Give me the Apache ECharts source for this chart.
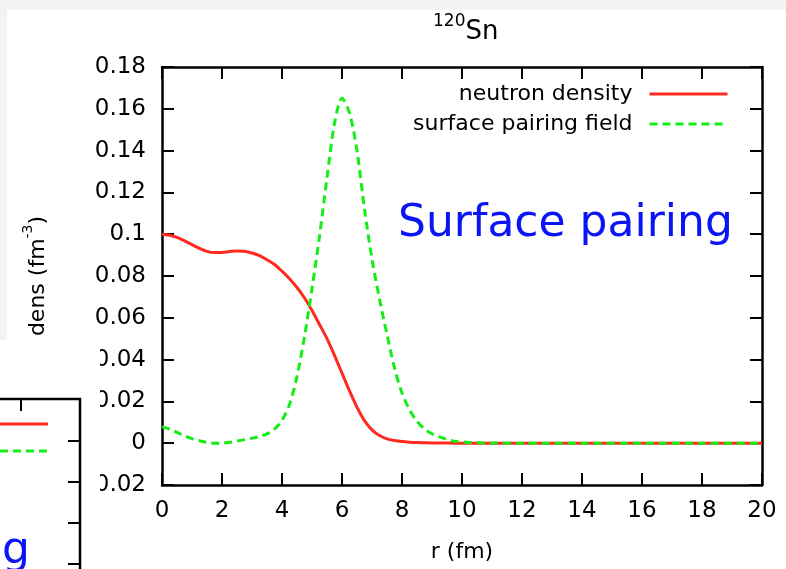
<!DOCTYPE html>
<html>
<head>
<meta charset="utf-8">
<script src="https://cdn.jsdelivr.net/npm/echarts@6/dist/echarts.min.js"></script>
<style>
html,body{margin:0;padding:0;background:#ffffff;}
#chart{width:786px;height:569px;}
</style>
</head>
<body>
<div id="chart"></div>
<script>
// radius r (fm)
const rValues = [0,0.25,0.5,0.75,1,1.25,1.5,1.75,2,2.25,2.5,2.75,3,3.25,3.5,3.75,4,4.25,4.5,4.75,5,5.25,5.5,5.75,6,6.25,6.5,6.75,7,7.25,7.5,7.75,8,8.25,8.5,8.75,9,9.25,9.5,9.75,10,10.5,11,12,14,16,18,20];
// neutron density (fm^-3)
const neutronDensity = [0.1000,0.0995,0.0985,0.0968,0.0950,0.0932,0.0918,0.0912,0.0913,0.0917,0.0920,0.0918,0.0910,0.0897,0.0878,0.0855,0.0823,0.0787,0.0745,0.0695,0.0635,0.0568,0.0500,0.0420,0.0335,0.0250,0.0172,0.0108,0.0064,0.0037,0.0021,0.0013,0.0008,0.0005,0.0003,0.0002,0.0001,0.0001,0.00005,0.00003,0.00002,0.00001,0,0,0,0,0,0];
// surface pairing field
const pairingField = [0.0078,0.0068,0.0052,0.0035,0.0022,0.0012,0.0004,0.0000,0.0000,0.0004,0.0010,0.0017,0.0024,0.0032,0.0045,0.0068,0.0110,0.0185,0.0320,0.0510,0.0740,0.0990,0.1270,0.1530,0.1650,0.1580,0.1400,0.1120,0.0880,0.0690,0.0520,0.0360,0.0240,0.0160,0.0105,0.0068,0.0045,0.0030,0.0018,0.0010,0.0006,0.0002,0.0001,0,0,0,0,0];
const seriesNames = ['neutron density', 'surface pairing field'];
const xTicks = {min: 0, max: 20, interval: 2};
const yTicks = {min: -0.02, max: 0.18, interval: 0.02};

const FONT = 'DejaVu Sans';
const pairs = (ys) => rValues.map((x, i) => [x, ys[i]]);
const fmtY = (v) => {
  if (Math.abs(v) < 1e-9) return '0';
  return String(parseFloat(v.toFixed(2)));
};

const chart = echarts.init(document.getElementById('chart'), null, {renderer: 'canvas'});
const axisCommon = {
  axisLine: {show: true, onZero: false, lineStyle: {color: '#000', width: 2.5}},
  axisTick: {show: true, inside: true, length: 12, lineStyle: {color: '#000', width: 2}},
  splitLine: {show: false}
};
const option = {
  backgroundColor: '#ffffff',
  animation: false,
  title: {
    text: '{sup|120}{main|Sn}',
    left: 428,
    top: 8,
    textStyle: {
      fontWeight: 'normal',
      rich: {
        sup: {fontFamily: FONT, fontSize: 17, fontWeight: 'normal', color: '#000', verticalAlign: 'top', lineHeight: 32},
        main: {fontFamily: FONT, fontSize: 26, fontWeight: 'normal', color: '#000', verticalAlign: 'bottom', lineHeight: 32}
      }
    }
  },
  grid: {left: 162, right: 24, top: 67, bottom: 84, containLabel: false, show: false},
  legend: {
    data: seriesNames,
    orient: 'vertical',
    right: 52,
    top: 78,
    align: 'right',
    itemWidth: 78,
    itemHeight: 20,
    itemGap: 8,
    itemStyle: {opacity: 0},
    lineStyle: {width: 3},
    textStyle: {fontFamily: FONT, fontSize: 22, color: '#000', padding: [0, 12, 0, 0]}
  },
  xAxis: [
    Object.assign({}, axisCommon, {
      type: 'value', position: 'bottom',
      min: xTicks.min, max: xTicks.max, interval: xTicks.interval,
      name: 'r (fm)', nameLocation: 'middle', nameGap: 56,
      nameTextStyle: {fontFamily: FONT, fontSize: 22, color: '#000'},
      axisLabel: {fontFamily: FONT, fontSize: 23, color: '#000', margin: 15}
    }),
    Object.assign({}, axisCommon, {
      type: 'value', position: 'top',
      min: xTicks.min, max: xTicks.max, interval: xTicks.interval,
      axisLabel: {show: false}
    })
  ],
  yAxis: [
    Object.assign({}, axisCommon, {
      type: 'value', position: 'left',
      min: yTicks.min, max: yTicks.max, interval: yTicks.interval,
      name: '{n|dens (fm}{s|-3}{n|)}', nameLocation: 'middle', nameGap: 113, nameRotate: 90,
      nameTextStyle: {
        rich: {
          n: {fontFamily: FONT, fontSize: 22, color: '#000', verticalAlign: 'bottom', lineHeight: 28},
          s: {fontFamily: FONT, fontSize: 14, color: '#000', verticalAlign: 'top', lineHeight: 28}
        }
      },
      axisLabel: {fontFamily: FONT, fontSize: 23, color: '#000', margin: 16, formatter: fmtY}
    }),
    Object.assign({}, axisCommon, {
      type: 'value', position: 'right',
      min: yTicks.min, max: yTicks.max, interval: yTicks.interval,
      axisLabel: {show: false}
    })
  ],
  series: [
    {
      name: seriesNames[0], type: 'line', xAxisIndex: 0, yAxisIndex: 0,
      data: pairs(neutronDensity), showSymbol: false, symbol: 'none', smooth: 0.3,
      lineStyle: {color: '#ff2a1f', width: 3, type: 'solid'},
      itemStyle: {color: '#ff2a1f'}, z: 3
    },
    {
      name: seriesNames[1], type: 'line', xAxisIndex: 0, yAxisIndex: 0,
      data: pairs(pairingField), showSymbol: false, symbol: 'none', smooth: 0.3,
      lineStyle: {color: '#14ee14', width: 3, type: [8, 5]},
      itemStyle: {color: '#14ee14'}, z: 4
    }
  ],
  graphic: [
    {type: 'text', left: 398, top: 203, z: 50,
     style: {text: 'Surface pairing', fontFamily: FONT, fontSize: 44, fill: '#0a14f5'}},
    // slide background strips
    {type: 'rect', shape: {x: 0, y: 0, width: 786, height: 10}, style: {fill: '#f3f3f3'}, z: 100, silent: true},
    {type: 'rect', shape: {x: 0, y: 10, width: 7, height: 330}, style: {fill: '#f4f2f2'}, z: 100, silent: true},
    // overlapping second chart in the lower left
    {type: 'rect', shape: {x: 0, y: 340, width: 100, height: 229}, style: {fill: '#ffffff'}, z: 100, silent: true},
    {type: 'polyline', shape: {points: [[0, 399], [80, 399], [80, 569]]}, style: {stroke: '#000', lineWidth: 2.5, fill: null}, z: 101, silent: true},
    {type: 'line', shape: {x1: 21, y1: 399, x2: 21, y2: 411}, style: {stroke: '#000', lineWidth: 2}, z: 101, silent: true},
    {type: 'line', shape: {x1: 68, y1: 441, x2: 80, y2: 441}, style: {stroke: '#000', lineWidth: 2}, z: 101, silent: true},
    {type: 'line', shape: {x1: 68, y1: 482, x2: 80, y2: 482}, style: {stroke: '#000', lineWidth: 2}, z: 101, silent: true},
    {type: 'line', shape: {x1: 68, y1: 523, x2: 80, y2: 523}, style: {stroke: '#000', lineWidth: 2}, z: 101, silent: true},
    {type: 'line', shape: {x1: 68, y1: 564, x2: 80, y2: 564}, style: {stroke: '#000', lineWidth: 2}, z: 101, silent: true},
    {type: 'line', shape: {x1: 0, y1: 424, x2: 48, y2: 424}, style: {stroke: '#ff2a1f', lineWidth: 3}, z: 101, silent: true},
    {type: 'line', shape: {x1: 0, y1: 451, x2: 48, y2: 451}, style: {stroke: '#14ee14', lineWidth: 3, lineDash: [8, 5]}, z: 101, silent: true},
    {type: 'text', left: 2, top: 530, z: 101,
     style: {text: 'g', fontFamily: FONT, fontSize: 44, fill: '#0a14f5'}}
  ]
};
chart.setOption(option);
</script>
</body>
</html>
